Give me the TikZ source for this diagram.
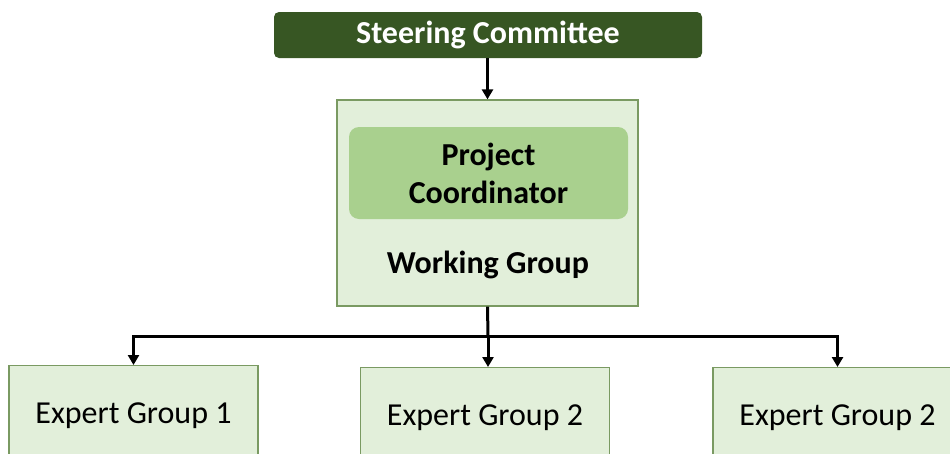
\documentclass[tikz,border=0pt]{standalone}
\usepackage{fontspec}
\setmainfont{Carlito}
\usetikzlibrary{arrows.meta,positioning}
\definecolor{steerfill}{HTML}{375623}
\definecolor{boxfill}{HTML}{E2EFDA}
\definecolor{boxline}{HTML}{7A9A62}
\definecolor{coordfill}{HTML}{A9D08E}
\tikzset{
  steer/.style={fill=steerfill, rounded corners=5pt, text=white, font=\fontsize{32}{36}\selectfont\bfseries,
    minimum width=428pt, minimum height=46pt, inner sep=0pt},
  group/.style={draw=boxline, line width=1.2pt, fill=boxfill, minimum width=249pt, minimum height=100pt,
    inner sep=0pt, font=\fontsize{32}{36}\selectfont},
  wgbox/.style={draw=boxline, line width=1.2pt, fill=boxfill, minimum width=301pt, minimum height=206pt, inner sep=0pt},
  coord/.style={fill=coordfill, rounded corners=10pt, minimum width=279pt, minimum height=92pt, align=center,
    inner sep=0pt, font=\fontsize{32}{38}\selectfont\bfseries},
  label/.style={font=\fontsize{32}{36}\selectfont\bfseries, inner sep=0pt},
  arrow/.style={-{Triangle[length=10pt, width=11pt]}, line width=3pt, black},
}
\begin{document}
\begin{tikzpicture}[x=1pt, y=-1pt]
\useasboundingbox (0,0) rectangle (950,453);
\clip (0,0) rectangle (950,453);

% ---- top -------------------------------------------------------------
\node[steer] (steering) at (488,35) {Steering Committee};
\node[wgbox] (wg) at (487.5,203) {};
\node[coord] (pc) at (488.5,173) {Project\\Coordinator};
\node[label, anchor=base] (wglabel) at (488,273) {Working Group};

% ---- expert groups ---------------------------------------------------
\node[group, anchor=north] (eg1) at (133.5,365) {Expert Group 1};
\node[group, anchor=north] (eg2) at (485,367) {Expert Group 2};
\node[group, anchor=north] (eg3) at (837.5,367) {Expert Group 2};

\coordinate (split) at (488,336);

\draw[arrow] (steering.south -| wg.north) -- (wg.north);
\draw[line width=3pt] (wg.south) -- (split);
\draw[arrow] (split) -| (eg1.north);
\draw[arrow] (split) -- (split |- eg2.north);
\draw[arrow] (split) -| (eg3.north);

\end{tikzpicture}
\end{document}
